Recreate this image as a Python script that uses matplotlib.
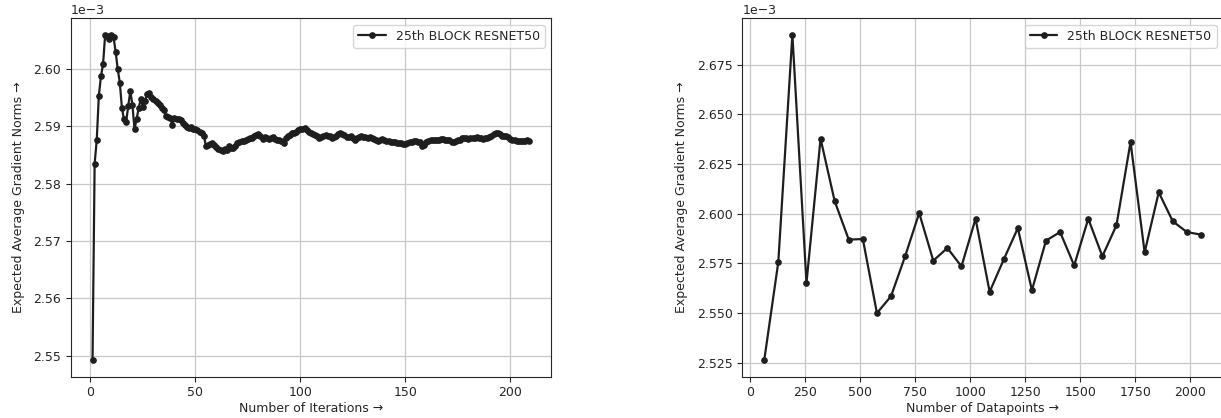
import matplotlib
matplotlib.use("Agg")
import matplotlib.pyplot as plt
import numpy as np
import seaborn as sns

# -- data (values in units of 1e-3) ---------------------------------------
iter_norms = [
    2.5492, 2.5835, 2.5876, 2.5953, 2.5987, 2.6008, 2.6059, 2.6057, 2.6052, 2.6060,
    2.6056, 2.6030, 2.6000, 2.5976, 2.5932, 2.5912, 2.5908, 2.5935, 2.5962, 2.5937,
    2.5895, 2.5913, 2.5932, 2.5948, 2.5934, 2.5944, 2.5957, 2.5959, 2.5951, 2.5947,
    2.5944, 2.5940, 2.5937, 2.5932, 2.5928, 2.5918, 2.5916, 2.5914, 2.5903, 2.5914,
    2.5912, 2.5913, 2.5911, 2.5906, 2.5903, 2.5899, 2.5898, 2.5899, 2.5896, 2.5895,
    2.5893, 2.5891, 2.5889, 2.5884, 2.5866, 2.5867, 2.5869, 2.5871, 2.5868, 2.5864,
    2.5861, 2.5858, 2.5857, 2.5860, 2.5859, 2.5865, 2.5863, 2.5862, 2.5866, 2.5871,
    2.5872, 2.5874, 2.5875, 2.5877, 2.5878, 2.5880, 2.5879, 2.5883, 2.5885, 2.5886,
    2.5884, 2.5878, 2.5881, 2.5880, 2.5878, 2.5880, 2.5881, 2.5878, 2.5877, 2.5876,
    2.5874, 2.5871, 2.5879, 2.5883, 2.5885, 2.5888, 2.5889, 2.5891, 2.5893, 2.5895,
    2.5896, 2.5897, 2.5893, 2.5890, 2.5888, 2.5887, 2.5885, 2.5883, 2.5879, 2.5881,
    2.5883, 2.5885, 2.5884, 2.5883, 2.5880, 2.5882, 2.5884, 2.5886, 2.5888, 2.5887,
    2.5885, 2.5882, 2.5881, 2.5883, 2.5880, 2.5877, 2.5879, 2.5881, 2.5883, 2.5882,
    2.5881, 2.5880, 2.5881, 2.5880, 2.5878, 2.5877, 2.5875, 2.5877, 2.5878, 2.5876,
    2.5874, 2.5874, 2.5873, 2.5872, 2.5872, 2.5871, 2.5871, 2.5871, 2.5870, 2.5870,
    2.5871, 2.5872, 2.5872, 2.5874, 2.5875, 2.5873, 2.5872, 2.5866, 2.5868, 2.5873,
    2.5875, 2.5876, 2.5877, 2.5876, 2.5876, 2.5877, 2.5878, 2.5878, 2.5877, 2.5876,
    2.5876, 2.5873, 2.5872, 2.5874, 2.5876, 2.5877, 2.5879, 2.5880, 2.5879, 2.5878,
    2.5879, 2.5880, 2.5880, 2.5881, 2.5880, 2.5879, 2.5878, 2.5879, 2.5880, 2.5881,
    2.5884, 2.5887, 2.5888, 2.5888, 2.5886, 2.5884, 2.5884, 2.5883, 2.5881, 2.5878,
    2.5876, 2.5876, 2.5875, 2.5874, 2.5874, 2.5875, 2.5875, 2.5876, 2.5875,
]
iterations = list(range(1, len(iter_norms) + 1))

datapoints = [64, 128, 192, 256, 320, 384, 448, 512, 576, 640, 704, 768, 832,
              896, 960, 1024, 1088, 1152, 1216, 1280, 1344, 1408, 1472, 1536,
              1600, 1664, 1728, 1792, 1856, 1920, 1984, 2048]
data_norms = [2.5262, 2.5757, 2.6902, 2.5652, 2.6378, 2.6064, 2.5870, 2.5873,
              2.5500, 2.5585, 2.5786, 2.6004, 2.5764, 2.5828, 2.5735, 2.5975,
              2.5607, 2.5770, 2.5928, 2.5615, 2.5865, 2.5908, 2.5740, 2.5975,
              2.5786, 2.5942, 2.6361, 2.5806, 2.6108, 2.5962, 2.5908, 2.5895]

label = "25th BLOCK RESNET50"
ylabel = "Expected Average Gradient Norms \u2192"

sns.set_style("ticks")
plt.rcParams["font.family"] = ["DejaVu Sans"]
FS = 9

fig = plt.figure(figsize=(12.21, 4.18), dpi=100)
ax1 = fig.add_axes([0.0579, 0.0988, 0.3934, 0.8574])
ax2 = fig.add_axes([0.6080, 0.0988, 0.3935, 0.8574])

panels = [(ax1, iterations, iter_norms, "Number of Iterations \u2192"),
          (ax2, datapoints, data_norms, "Number of Datapoints \u2192")]
for ax, x, y, xl in panels:
    ax.plot(x, np.array(y) * 1e-3, color="#1e1e1e", lw=1.6, marker="o",
            ms=3.8, label=label)
    ax.grid(True, color="#c8c8c8", lw=0.9)
    ax.ticklabel_format(axis="y", style="sci", scilimits=(-3, -3))
    ax.set_xlabel(xl, fontsize=FS, labelpad=2)
    ax.set_ylabel(ylabel, fontsize=FS, labelpad=6)
    ax.tick_params(labelsize=FS, length=3.5)
    ax.yaxis.get_offset_text().set_fontsize(FS)
    ax.legend(loc="upper right", fontsize=FS, handlelength=2.2)

fig.savefig("out.png", dpi=100, facecolor="white")
